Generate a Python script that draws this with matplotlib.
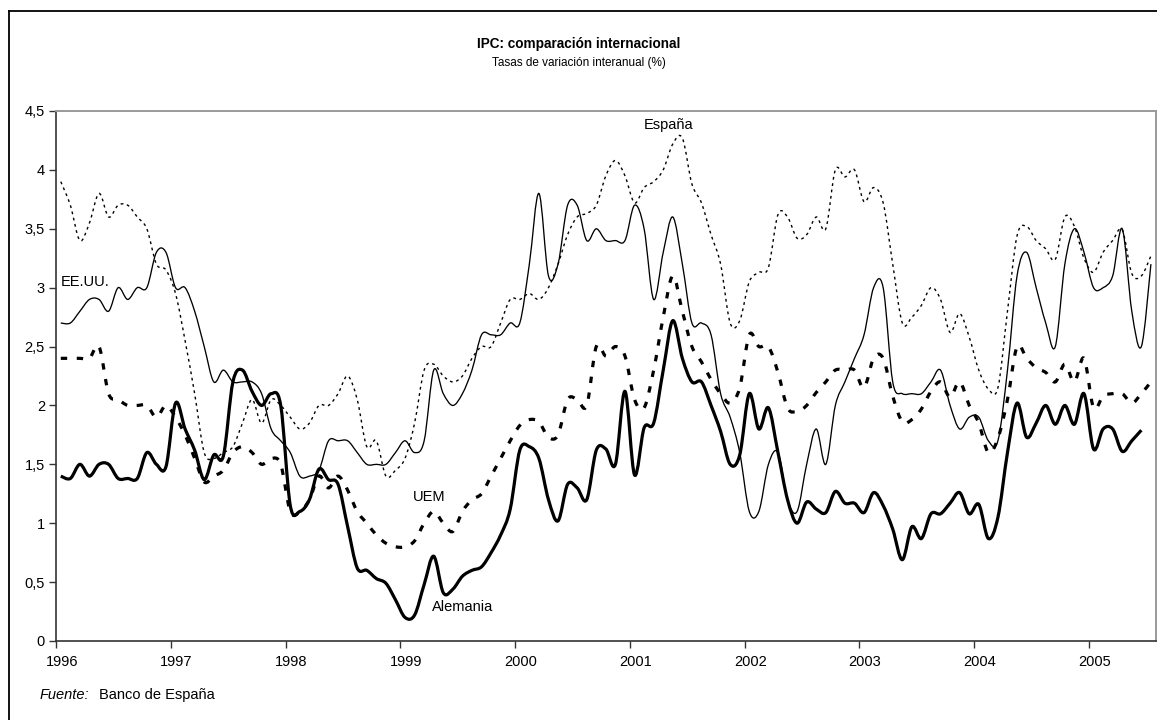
import matplotlib
matplotlib.use("Agg")
import matplotlib.pyplot as plt
from matplotlib.path import Path
from matplotlib.patches import PathPatch
from matplotlib.lines import Line2D
from matplotlib.ticker import FixedLocator, NullFormatter, FuncFormatter

plt.rcParams['font.family'] = ['Liberation Sans', 'DejaVu Sans']

# ---------------- data (monthly, Jan 1996 onwards) ----------------
years = ["1996", "1997", "1998", "1999", "2000", "2001", "2002", "2003", "2004", "2005"]

espana = [3.9, 3.7, 3.4, 3.55, 3.8, 3.6, 3.7, 3.7, 3.6, 3.5, 3.2, 3.15,
          2.95, 2.55, 2.1, 1.6, 1.55, 1.6, 1.65, 1.85, 2.05, 1.85, 2.05, 2.0,
          1.9, 1.8, 1.85, 2.0, 2.0, 2.1, 2.25, 2.05, 1.65, 1.7, 1.4, 1.45,
          1.55, 1.85, 2.3, 2.35, 2.25, 2.2, 2.25, 2.4, 2.5, 2.5, 2.7, 2.9,
          2.9, 2.95, 2.9, 3.0, 3.2, 3.45, 3.6, 3.63, 3.7, 3.95, 4.08, 3.95,
          3.72, 3.85, 3.9, 4.0, 4.22, 4.27, 3.88, 3.72, 3.45, 3.2, 2.7, 2.72,
          3.05, 3.13, 3.17, 3.62, 3.6, 3.42, 3.45, 3.6, 3.5, 4.0, 3.94, 4.0,
          3.73, 3.85, 3.72, 3.2, 2.7, 2.75, 2.85, 3.0, 2.9, 2.62, 2.78, 2.58,
          2.3, 2.14, 2.15, 2.8, 3.44, 3.52, 3.4, 3.33, 3.24, 3.6, 3.52, 3.25,
          3.13, 3.3, 3.4, 3.49, 3.12, 3.1, 3.27]

eeuu = [2.7, 2.7, 2.8, 2.9, 2.9, 2.8, 3.0, 2.9, 3.0, 3.0, 3.3, 3.3,
        3.0, 3.0, 2.8, 2.5, 2.2, 2.3, 2.2, 2.2, 2.2, 2.1, 1.8, 1.7,
        1.6, 1.4, 1.4, 1.45, 1.7, 1.7, 1.7, 1.6, 1.5, 1.5, 1.5, 1.6,
        1.7, 1.6, 1.7, 2.3, 2.1, 2.0, 2.1, 2.3, 2.6, 2.6, 2.6, 2.7,
        2.7, 3.2, 3.8, 3.1, 3.2, 3.7, 3.7, 3.4, 3.5, 3.4, 3.4, 3.4,
        3.7, 3.5, 2.9, 3.3, 3.6, 3.2, 2.7, 2.7, 2.6, 2.1, 1.9, 1.6,
        1.1, 1.1, 1.5, 1.6, 1.2, 1.1, 1.5, 1.8, 1.5, 2.0, 2.2, 2.4,
        2.6, 3.0, 3.0, 2.2, 2.1, 2.1, 2.1, 2.2, 2.3, 2.0, 1.8, 1.9,
        1.9, 1.7, 1.7, 2.3, 3.1, 3.3, 3.0, 2.7, 2.5, 3.2, 3.5, 3.3,
        3.0, 3.0, 3.1, 3.5, 2.8, 2.5, 3.2]

uem = [2.4, 2.4, 2.4, 2.4, 2.5, 2.1, 2.05, 2.0, 2.0, 2.0, 1.9, 2.0,
       1.9, 1.75, 1.55, 1.35, 1.4, 1.45, 1.6, 1.65, 1.6, 1.5, 1.55, 1.5,
       1.1, 1.1, 1.2, 1.4, 1.3, 1.4, 1.28, 1.1, 1.0, 0.9, 0.83, 0.8,
       0.8, 0.85, 1.0, 1.1, 1.0, 0.93, 1.1, 1.2, 1.25, 1.4, 1.55, 1.7,
       1.83, 1.88, 1.86, 1.73, 1.75, 2.05, 2.05, 2.0, 2.5, 2.42, 2.5, 2.42,
       2.05, 1.98, 2.3, 2.75, 3.1, 2.8, 2.5, 2.37, 2.22, 2.1, 2.02, 2.15,
       2.6, 2.5, 2.5, 2.28, 1.98, 1.95, 2.0, 2.11, 2.2, 2.3, 2.3, 2.3,
       2.15, 2.4, 2.4, 2.08, 1.86, 1.88, 1.97, 2.12, 2.2, 2.07, 2.2, 2.0,
       1.85, 1.6, 1.72, 2.05, 2.5, 2.4, 2.32, 2.28, 2.2, 2.35, 2.2, 2.4,
       1.98, 2.08, 2.1, 2.1, 2.02, 2.1, 2.2]

alemania = [1.4, 1.38, 1.5, 1.4, 1.5, 1.5, 1.38, 1.38, 1.38, 1.6, 1.5, 1.48,
            2.02, 1.8, 1.62, 1.37, 1.58, 1.57, 2.2, 2.3, 2.12, 2.0, 2.1, 2.0,
            1.15, 1.1, 1.2, 1.46, 1.37, 1.33, 0.97, 0.62, 0.6, 0.53, 0.49, 0.35,
            0.2, 0.22, 0.48, 0.72, 0.41, 0.44, 0.55, 0.6, 0.63, 0.75, 0.9, 1.12,
            1.62, 1.65, 1.55, 1.2, 1.02, 1.33, 1.3, 1.2, 1.62, 1.63, 1.5, 2.12,
            1.41, 1.81, 1.85, 2.3, 2.72, 2.4, 2.2, 2.2, 2.0, 1.78, 1.5, 1.58,
            2.1, 1.8, 1.98, 1.6, 1.2, 1.0, 1.18, 1.12, 1.09, 1.27, 1.17, 1.17,
            1.09, 1.26, 1.15, 0.95, 0.69, 0.97, 0.87, 1.08, 1.08, 1.17, 1.26, 1.08,
            1.16, 0.87, 1.05, 1.6, 2.02, 1.73, 1.85, 2.0, 1.84, 2.0, 1.84, 2.1,
            1.63, 1.8, 1.8, 1.61, 1.7, 1.79]

y_ticks = [0, 0.5, 1, 1.5, 2, 2.5, 3, 3.5, 4, 4.5]


def smooth_path(ys):
    """Bezier path through every monthly point (Excel-style smoothed line)."""
    xs = [i + 0.5 for i in range(len(ys))]
    n = len(xs)
    verts = [(xs[0], ys[0])]
    codes = [Path.MOVETO]
    for i in range(n - 1):
        a = i - 1 if i > 0 else i
        d = i + 2 if i + 2 < n else i + 1
        c1 = (xs[i] + (xs[i + 1] - xs[a]) / 6.0, ys[i] + (ys[i + 1] - ys[a]) / 6.0)
        c2 = (xs[i + 1] - (xs[d] - xs[i]) / 6.0, ys[i + 1] - (ys[d] - ys[i]) / 6.0)
        verts += [c1, c2, (xs[i + 1], ys[i + 1])]
        codes += [Path.CURVE4] * 3
    return Path(verts, codes)


W, H = 1157, 720
fig = plt.figure(figsize=(W / 100, H / 100), dpi=100)
ax = fig.add_axes([56 / W, (H - 641) / H, (1155.7 - 56) / W, (641 - 111) / H])

series_styles = [
    (espana, dict(lw=1.0, linestyle=(0, (2.0, 2.6)), capstyle='butt')),
    (eeuu, dict(lw=0.95, linestyle='-')),
    (uem, dict(lw=2.3, linestyle=(0, (2.0, 3.0)), capstyle='butt')),
    (alemania, dict(lw=2.3, linestyle='-', joinstyle='round')),
]
for ys, st in series_styles:
    ax.add_patch(PathPatch(smooth_path(ys), fill=False, edgecolor='black', **st))

ax.set_xlim(0, 115)
ax.set_ylim(0, 4.5)

# axes styling
for s in ['top', 'right']:
    ax.spines[s].set_color('#9a9a9a')
    ax.spines[s].set_linewidth(1.4)
for s in ['left', 'bottom']:
    ax.spines[s].set_color('#333333')
    ax.spines[s].set_linewidth(1.2)

ax.set_yticks(y_ticks)
ax.yaxis.set_major_formatter(FuncFormatter(lambda v, p: ('%g' % v).replace('.', ',')))
ax.tick_params(axis='y', direction='out', length=5, width=1, color='#333333',
               labelsize=10.5, pad=3)

ax.xaxis.set_major_locator(FixedLocator([12 * k for k in range(len(years))]))
ax.xaxis.set_major_formatter(NullFormatter())
ax.xaxis.set_minor_locator(FixedLocator([12 * k + 0.6 for k in range(len(years))]))
ax.set_xticklabels(years, minor=True)
ax.tick_params(axis='x', which='major', direction='out', length=5, width=1, color='#333333')
ax.tick_params(axis='x', which='minor', length=0, labelsize=10.5, pad=10)

# series labels
ax.text(0.49, 3.045, "EE.UU.", fontsize=10.5, ha='left', va='center')
ax.text(64.1, 4.38, "España", fontsize=10.5, ha='center', va='center')
ax.text(39.0, 1.22, "UEM", fontsize=10.5, ha='center', va='center')
ax.text(42.5, 0.285, "Alemania", fontsize=10.5, ha='center', va='center')

# titles
fig.text(0.5, 1 - 44 / H, "IPC: comparación internacional", fontsize=9.8,
         fontweight='bold', ha='center', va='center')
fig.text(0.5, 1 - 63 / H, "Tasas de variación interanual (%)", fontsize=8.5,
         ha='center', va='center')

# source
fig.text(40 / W, 1 - 695 / H, "Fuente:", fontsize=10.5, style='italic',
         ha='left', va='center')
fig.text(99 / W, 1 - 695 / H, "Banco de España", fontsize=10.5, ha='left', va='center')

# outer frame (top and left edges visible)
fig.add_artist(Line2D([9 / W, 1.0], [1 - 11 / H, 1 - 11 / H], color='black', lw=1.3,
                      transform=fig.transFigure))
fig.add_artist(Line2D([9 / W, 9 / W], [0, 1 - 11 / H], color='black', lw=1.3,
                      transform=fig.transFigure))

fig.savefig("out.png", dpi=100)
